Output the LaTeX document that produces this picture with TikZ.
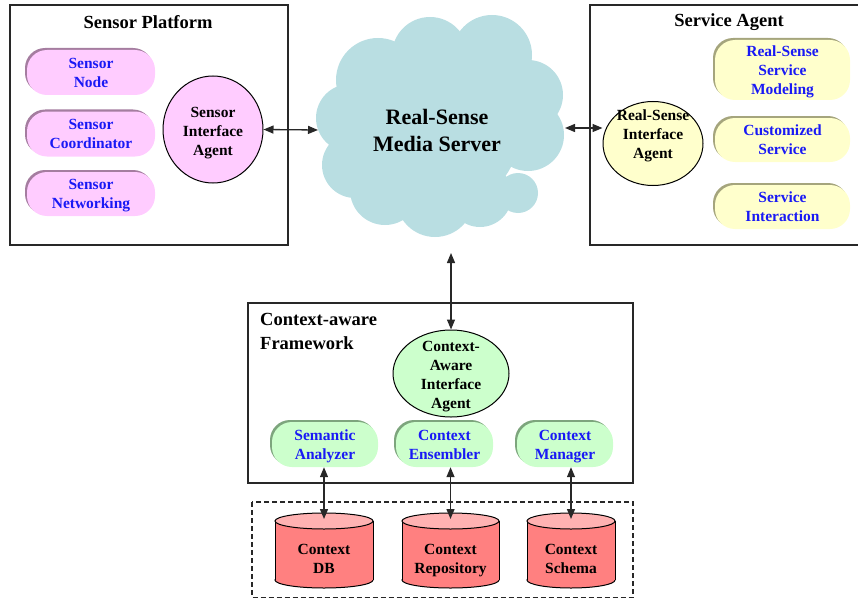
\documentclass[tikz,border=0pt]{standalone}
\usepackage{fontspec}
\setmainfont{Liberation Serif}
\usetikzlibrary{shadows,arrows.meta,calc,shapes.geometric}
\definecolor{pinkf}{RGB}{255,204,255}
\definecolor{pinks}{RGB}{165,125,160}
\definecolor{yelf}{RGB}{255,255,204}
\definecolor{yels}{RGB}{165,165,125}
\definecolor{grnf}{RGB}{204,255,204}
\definecolor{grns}{RGB}{125,165,125}
\definecolor{cloudc}{RGB}{185,222,226}
\definecolor{cylb}{RGB}{255,128,128}
\definecolor{cylt}{RGB}{255,178,178}
\definecolor{txtblue}{RGB}{25,25,245}
\definecolor{linec}{RGB}{40,40,40}
\tikzset{
  box/.style={draw=linec, line width=1.2pt},
  pill/.style n args={2}{rectangle, rounded corners=20pt, fill=#1, text=txtblue, align=center, inner sep=0pt,
     text depth=0pt,
     general shadow={shadow xshift=-2pt, shadow yshift=2pt, fill=#2}},
  agent/.style={ellipse, draw=black, line width=1pt, inner sep=0pt, align=center},
  arr/.style={{Triangle[length=10pt,width=8pt]}-{Triangle[length=10pt,width=8pt]}, draw=linec, line width=1.3pt},
  title/.style={font=\bfseries\fontsize{18.5}{24}\selectfont},
  txt/.style={align=center, inner sep=0pt, text depth=0pt}
}
\begin{document}
\begin{tikzpicture}[x=1pt, y=-1pt, font=\bfseries\fontsize{15.5}{19}\selectfont]
\useasboundingbox (0,0) rectangle (858,599);

% ---------- Sensor Platform ----------
\draw[box] (10,5) rectangle (288,245);
\node[title] (sptitle) at (148,22) {Sensor Platform};
\node[pill={pinkf}{pinks}, minimum width=128pt, minimum height=45pt] (snode) at (91,72.5) {Sensor\\Node};
\node[pill={pinkf}{pinks}, minimum width=128pt, minimum height=45pt] (scoord) at (91,134) {Sensor\\Coordinator};
\node[pill={pinkf}{pinks}, minimum width=128pt, minimum height=44pt] (snet) at (91,194) {Sensor\\Networking};
\node[agent, fill=pinkf, minimum width=100pt, minimum height=107pt] (sia) at (213,129.5) {};
\node[txt] (siat) at (213,131) {Sensor\\Interface\\Agent};

% ---------- Cloud ----------
\begin{scope}
\fill[cloudc] (350,118) circle[radius=34pt];
\fill[cloudc] (378,80) circle[radius=42pt];
\fill[cloudc] (430,55) circle[radius=38pt];
\fill[cloudc] (492,55) circle[radius=40pt];
\fill[cloudc] (528,95) circle[radius=35pt];
\fill[cloudc] (528,135) circle[radius=36pt];
\fill[cloudc] (518,193) circle[radius=20pt];
\fill[cloudc] (480,195) circle[radius=32pt];
\fill[cloudc] (435,198) circle[radius=39pt];
\fill[cloudc] (385,190) circle[radius=35pt];
\fill[cloudc] (355,165) circle[radius=33pt];
\fill[cloudc] (440,130) circle[radius=80pt];
\end{scope}
\node[align=center, inner sep=0pt, font=\bfseries\fontsize{22}{27}\selectfont] (cloud) at (437,130) {Real-Sense\\Media Server};
\coordinate (cloudL) at (318,130);
\coordinate (cloudR) at (565,128);
\coordinate (cloudB) at (451,253);

% ---------- Service Agent ----------
\draw[box] (858,5) -- (590,5) -- (590,245) -- (858,245);
\node[title] (satitle) at (729,22) {Service Agent};
\node[agent, fill=yelf, minimum width=100pt, minimum height=84pt] (rsa) at (653,143.5) {};
\node[txt] (rsatext) at (653,134) {Real-Sense\\Interface\\Agent};
\node[pill={yelf}{yels}, minimum width=135pt, minimum height=60pt] (rsmod) at (782.5,70) {Real-Sense\\Service\\Modeling};
\node[pill={yelf}{yels}, minimum width=135pt, minimum height=44pt] (cserv) at (782.5,140) {Customized\\Service};
\node[pill={yelf}{yels}, minimum width=135pt, minimum height=44pt] (sinter) at (782.5,207) {Service\\Interaction};

% ---------- Context-aware Framework ----------
\draw[box] (248,303) rectangle (633,483);
\node[title, align=left, anchor=north west, inner sep=0pt] (cftitle) at (260,313) {Context-aware\\Framework};
\node[agent, fill=grnf, minimum width=116pt, minimum height=87pt] (caia) at (451,373.5) {};
\node[txt] (caiat) at (451,375) {Context-\\Aware\\Interface\\Agent};
\node[pill={grnf}{grns}, minimum width=106pt, minimum height=45pt] (sem) at (325,444.5) {Semantic\\Analyzer};
\node[pill={grnf}{grns}, minimum width=97pt, minimum height=45pt] (ens) at (444.5,444.5) {Context\\Ensembler};
\node[pill={grnf}{grns}, minimum width=96pt, minimum height=45pt] (man) at (565,444.5) {Context\\Manager};

% ---------- Storage ----------
\draw[linec, line width=1.1pt, dash pattern=on 5pt off 3pt] (252,502) rectangle (633,597.5);
\foreach \n/\cx/\a/\t in {cdb/324/49/{Context\\DB}, crep/450.5/48.5/{Context\\Repository}, csch/571/44/{Context\\Schema}}{
  \filldraw[fill=cylb, draw=black, line width=1pt] (\cx,580) ellipse[x radius=\a pt, y radius=8pt];
  \fill[cylb] (\cx-\a,521) rectangle (\cx+\a,580);
  \draw[black, line width=1pt] (\cx-\a,521) -- (\cx-\a,580) (\cx+\a,521) -- (\cx+\a,580);
  \filldraw[fill=cylt, draw=black, line width=1pt] (\cx,521) ellipse[x radius=\a pt, y radius=8pt];
  \node[txt, text=black] (\n) at (\cx,558.5) {\t};
  \coordinate (\n top) at (\cx,519);
}

% ---------- Connectors ----------
\draw[arr] (sia.east) -- (cloudL);
\draw[arr] (cloudR) -- (cloudR -| rsa.west);
\draw[arr] (cloudB) -- (caia.north);
\draw[arr] (cdbtop |- sem.south) -- (cdbtop);
\draw[arr] (creptop |- ens.south) -- (creptop);
\draw[arr] (cschtop |- man.south) -- (cschtop);
\end{tikzpicture}
\end{document}
